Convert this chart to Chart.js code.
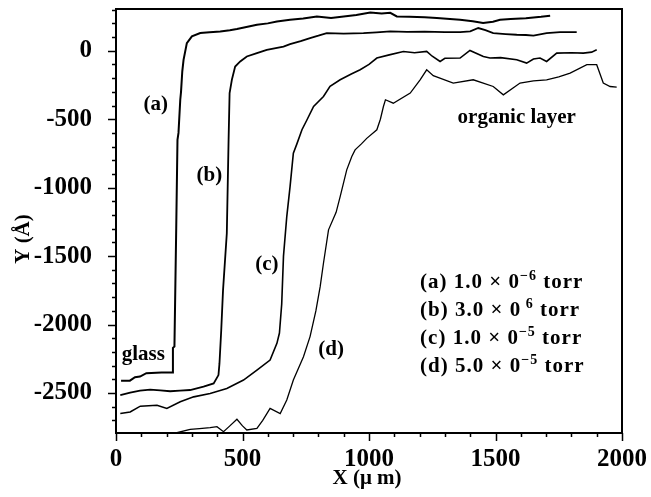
<!DOCTYPE html>
<html>
<head>
<meta charset="utf-8">
<script src="https://cdn.jsdelivr.net/npm/chart.js@4.4.1/dist/chart.umd.min.js"></script>
<style>
  html, body { margin: 0; padding: 0; background: #fff; }
  #wrap { width: 651px; height: 497px; }
</style>
</head>
<body>
<div id="wrap"><canvas id="myChart" width="651" height="497"></canvas></div>
<script>
// step profiles, X in µm, Y in Å
const aX = [20, 55, 75, 95, 120, 180, 225, 225, 231, 238, 243, 247, 254, 257, 262, 267, 280, 300, 333, 370, 412, 450, 478, 520, 557, 600, 636, 688, 740, 794, 850, 900, 950, 1005, 1050, 1084, 1110, 1160, 1220, 1268, 1320, 1360, 1410, 1451, 1490, 1518, 1560, 1620, 1680, 1716];
const aY = [-2410, -2410, -2385, -2380, -2355, -2350, -2350, -2170, -2160, -1300, -651, -600, -358, -300, -150, -66, 56, 105, 129, 135, 141, 150, 159, 175, 190, 200, 214, 227, 235, 251, 240, 250, 262, 280, 272, 277, 251, 248, 245, 239, 232, 227, 215, 202, 212, 227, 232, 238, 248, 256];

const bX = [17, 56, 95, 135, 175, 214, 253, 293, 346, 386, 405, 409, 416, 423, 438, 445, 449, 458, 471, 491, 517, 557, 596, 662, 688, 730, 767, 800, 833, 900, 978, 1030, 1084, 1150, 1220, 1300, 1360, 1400, 1432, 1460, 1491, 1540, 1584, 1620, 1650, 1702, 1755, 1821];
const bY = [-2515, -2497, -2483, -2475, -2480, -2487, -2483, -2478, -2454, -2430, -2369, -2284, -2040, -1750, -1333, -651, -309, -212, -115, -78, -42, -17, 7, 31, 49, 70, 93, 110, 129, 125, 129, 134, 141, 138, 140, 136, 136, 141, 166, 150, 129, 122, 117, 115, 110, 129, 136, 136];

const cX = [17, 56, 96, 162, 201, 254, 307, 372, 438, 504, 557, 609, 636, 646, 655, 662, 675, 688, 701, 715, 735, 755, 781, 820, 846, 886, 930, 965, 1000, 1031, 1080, 1136, 1180, 1228, 1250, 1281, 1300, 1360, 1399, 1452, 1478, 1520, 1584, 1623, 1650, 1676, 1702, 1742, 1800, 1847, 1880, 1900];
const cY = [-2650, -2638, -2596, -2589, -2613, -2564, -2528, -2503, -2467, -2405, -2332, -2259, -2137, -2062, -1850, -1500, -1211, -992, -748, -680, -577, -504, -407, -334, -260, -212, -170, -139, -100, -53, -30, -5, -15, -5, -40, -78, -55, -53, 2, -42, -53, -50, -66, -90, -60, -53, -78, -17, -15, -17, -10, 7];

const dX = [241, 293, 330, 372, 399, 425, 450, 478, 500, 517, 557, 580, 609, 649, 675, 701, 741, 767, 790, 807, 820, 840, 870, 886, 912, 932, 945, 970, 991, 1031, 1045, 1057, 1065, 1096, 1163, 1202, 1228, 1254, 1333, 1412, 1491, 1531, 1597, 1650, 1702, 1750, 1795, 1861, 1900, 1926, 1953, 1979];
const dY = [-2790, -2765, -2760, -2753, -2746, -2783, -2740, -2692, -2740, -2770, -2758, -2700, -2612, -2650, -2551, -2405, -2235, -2088, -1900, -1723, -1552, -1308, -1180, -1065, -870, -773, -724, -680, -640, -577, -500, -407, -358, -383, -309, -212, -139, -182, -236, -212, -261, -322, -236, -220, -212, -190, -163, -102, -102, -236, -261, -265];

const xTicks = [0, 500, 1000, 1500, 2000];
const yTicks = [-2500, -2000, -1500, -1000, -500, 0];

// curve tags and side notes, anchored in data units (text baseline)
const tagText = ["(a)", "(b)", "(c)", "(d)", "glass", "organic layer"];
const tagX = [157, 369, 596, 850, 108, 1584];
const tagY = [-431, -950, -1601, -2222, -2259, -529];

const keyText = ["(a) 1.0 \u00d7 0", "(b) 3.0 \u00d7 0", "(c) 1.0 \u00d7 0", "(d) 5.0 \u00d7 0"];
const keySup = ["\u22126", " 6", "\u22125", "\u22125"];
const keyX = 1202;
const keyY = [-1732, -1937, -2142, -2347];

const serif = "'Liberation Serif', 'Times New Roman', serif";

const toPts = (xs, ys) => xs.map((x, i) => ({ x, y: ys[i] }));

const trace = (xs, ys, w) => ({
  data: toPts(xs, ys),
  showLine: true,
  borderColor: "#000",
  borderWidth: w,
  pointRadius: 0,
  tension: 0,
});

const decor = {
  id: "decor",
  afterDraw(c) {
    const { ctx, chartArea: ca, scales: { x, y } } = c;
    ctx.save();
    ctx.strokeStyle = "#000";
    ctx.lineWidth = 2;
    ctx.strokeRect(ca.left, ca.top, ca.right - ca.left, ca.bottom - ca.top);

    //tick marks, long on the labelled values
    ctx.lineWidth = 1.5;
    ctx.beginPath();
    for (let v = 0; v <= 2000; v += 100) {
      const px = Math.round(x.getPixelForValue(v)) + 0.5;
      ctx.moveTo(px, ca.bottom);
      ctx.lineTo(px, ca.bottom + (v % 500 ? 4 : 8));
    }
    for (let v = -2700; v <= 300; v += 100) {
      const py = Math.round(y.getPixelForValue(v)) + 0.5;
      ctx.moveTo(ca.left, py);
      ctx.lineTo(ca.left - (v % 500 ? 4 : 8), py);
    }
    ctx.stroke();

    ctx.fillStyle = "#000";
    ctx.font = `bold 21px ${serif}`;
    ctx.textBaseline = "alphabetic";
    ctx.textAlign = "center";
    tagText.forEach((t, i) => ctx.fillText(t, x.getPixelForValue(tagX[i]), y.getPixelForValue(tagY[i])));

    ctx.textAlign = "left";
    ctx.letterSpacing = "1px";
    keyText.forEach((t, i) => {
      let px = x.getPixelForValue(keyX);
      const py = y.getPixelForValue(keyY[i]);
      ctx.font = `bold 21px ${serif}`;
      ctx.fillText(t, px, py);
      px += ctx.measureText(t).width;
      ctx.font = `bold 14px ${serif}`;
      ctx.fillText(keySup[i], px, py - 8);
      px += ctx.measureText(keySup[i]).width;
      ctx.font = `bold 21px ${serif}`;
      ctx.fillText(" torr", px, py);
    });
    ctx.letterSpacing = "0px";

    // axis titles
    ctx.font = `bold 21px ${serif}`;
    ctx.textAlign = "center";
    ctx.fillText("X (\u03bc m)", (ca.left + ca.right) / 2 - 2, 484);
    ctx.save();
    ctx.translate(29, 239);
    ctx.rotate(-Math.PI / 2);
    ctx.fillText("Y (\u00c5)", 0, 0);
    ctx.restore();
    ctx.restore();
  }
};

const tickFont = { family: serif, weight: "bold", size: 25 };

//no extra room for edge labels, the frame is placed by layout padding
const noEdgePad = s => { s.paddingTop = 0; s.paddingBottom = 0; s.paddingLeft = 0; s.paddingRight = 0; };

new Chart(document.getElementById("myChart"), {
  type: "scatter",
  data: {
    datasets: [
      trace(aX, aY, 2),
      trace(bX, bY, 1.8),
      trace(cX, cY, 1.6),
      trace(dX, dY, 1.3),
    ]
  },
  options: {
    responsive: false,
    animation: false,
    devicePixelRatio: 1,
    layout: { padding: { top: 9, right: 29, left: 0, bottom: 0 } },
    plugins: { legend: { display: false }, tooltip: { enabled: false } },
    scales: {
      x: {
        type: "linear",
        min: 0,
        max: 2000,
        grid: { display: false },
        border: { display: false },
        afterBuildTicks: s => { s.ticks = xTicks.map(v => ({ value: v })); },
        afterFit: s => { s.height = 64; noEdgePad(s); },
        ticks: { color: "#000", padding: 4, maxRotation: 0, font: tickFont, callback: v => String(v) },
      },
      y: {
        type: "linear",
        min: -2792,
        max: 305,
        grid: { display: false },
        border: { display: false },
        afterBuildTicks: s => { s.ticks = yTicks.map(v => ({ value: v })); },
        afterFit: s => { s.width = 116; noEdgePad(s); },
        ticks: { color: "#000", padding: 16, font: tickFont, callback: v => String(v) },
      },
    },
  },
  plugins: [decor],
});
</script>
</body>
</html>
